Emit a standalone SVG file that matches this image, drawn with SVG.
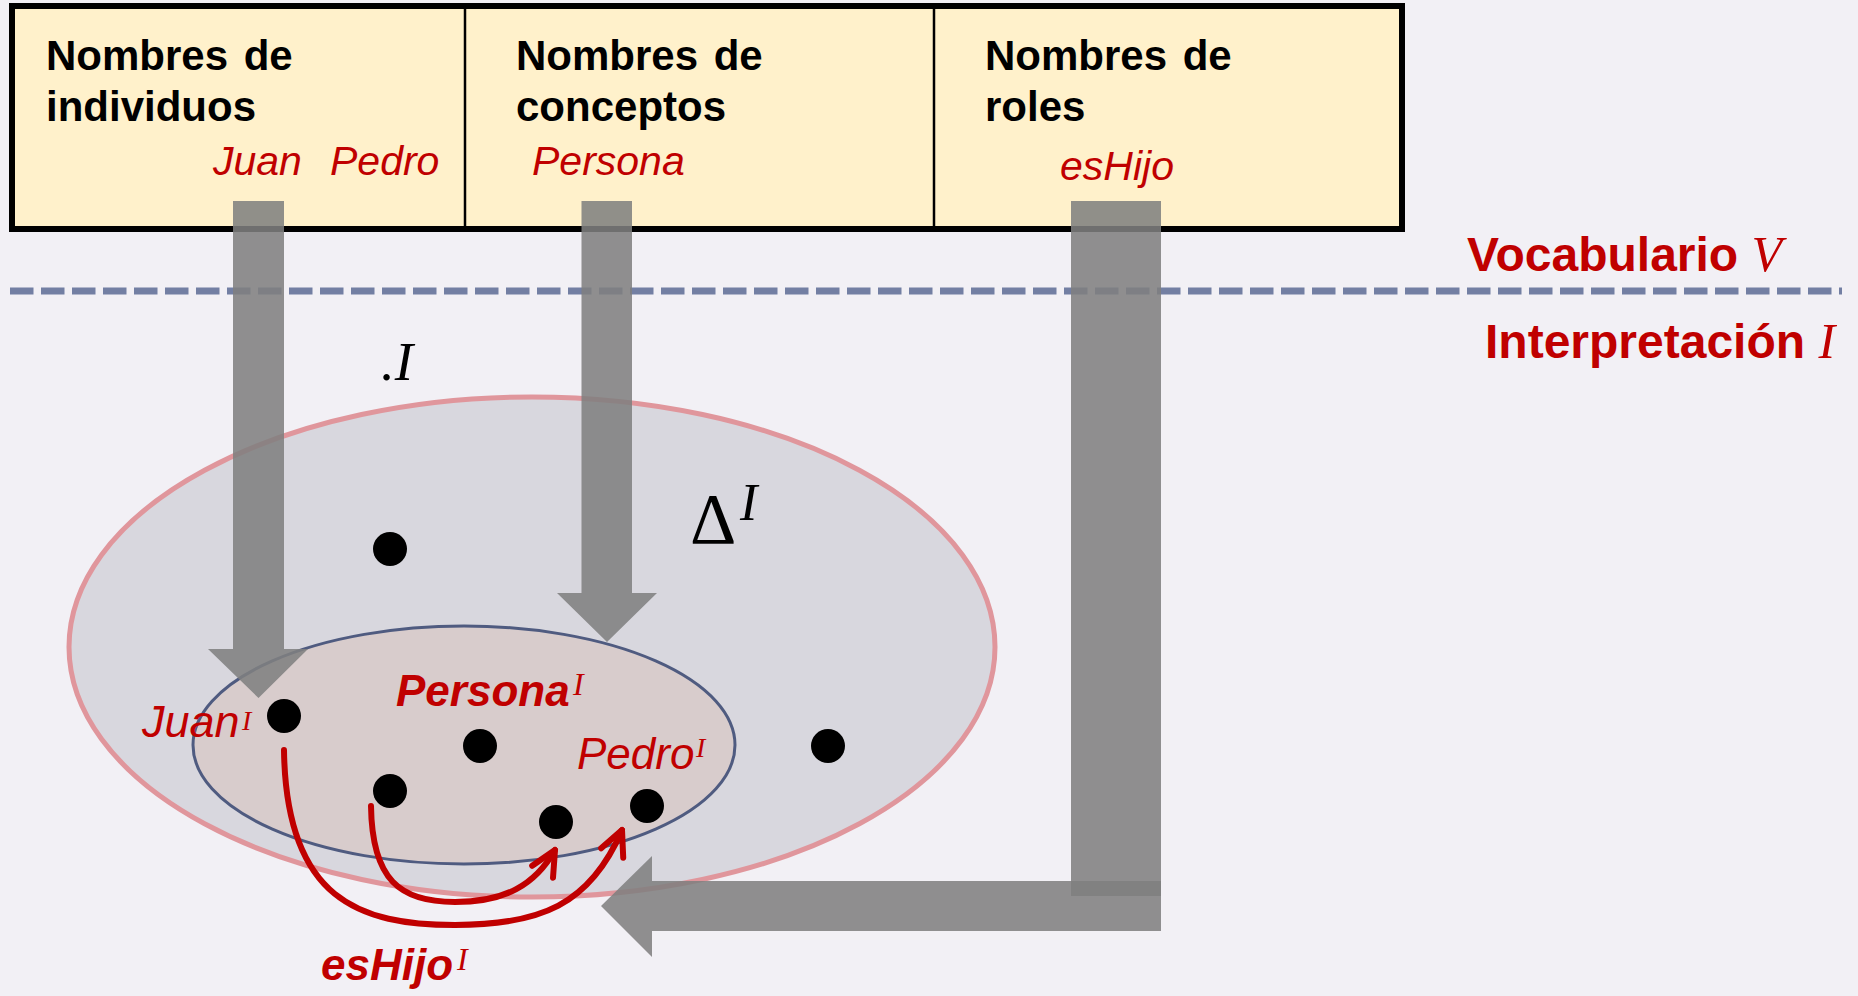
<svg xmlns="http://www.w3.org/2000/svg" width="1858" height="996" viewBox="0 0 1858 996">
<defs>
<style>
.hdr{font-family:"Liberation Sans",Arial,sans-serif;font-weight:bold;font-size:42px;fill:#000;word-spacing:4px}
.red{font-family:"Liberation Sans",Arial,sans-serif;font-style:italic;fill:#C00000}
.redb{font-family:"Liberation Sans",Arial,sans-serif;font-style:italic;font-weight:bold;fill:#C00000}
.lbl{font-family:"Liberation Sans",Arial,sans-serif;font-weight:bold;font-size:48px;fill:#C00000}
.math{font-family:"Liberation Serif","Times New Roman",serif;font-style:italic}
.up{font-family:"Liberation Serif","Times New Roman",serif;font-style:normal}
.garrow{fill:#808080;fill-opacity:0.87}
.dot{fill:#000}
.rel{fill:none;stroke:#C00000;stroke-width:6;stroke-linecap:round}
</style>
<marker id="open" markerUnits="userSpaceOnUse" markerWidth="40" markerHeight="40" refX="0" refY="0" viewBox="-30 -20 40 40" orient="auto" overflow="visible">
<path d="M-25,-12 L0,0 L-25,12" fill="none" stroke="#C00000" stroke-width="6" stroke-linecap="round" stroke-linejoin="round"/>
</marker>
</defs>
<rect x="0" y="0" width="1858" height="996" fill="#F2F0F5"/>

<g id="vocab-box">
<rect x="12" y="6" width="1390" height="223" fill="#FFF1CB" stroke="#000" stroke-width="6"/>
<line x1="465" y1="6" x2="465" y2="229" stroke="#000" stroke-width="2.5"/>
<line x1="934" y1="6" x2="934" y2="229" stroke="#000" stroke-width="2.5"/>
</g>
<g id="col-individuos">
<text class="hdr" x="46" y="70">Nombres de</text>
<text class="hdr" x="46" y="121">individuos</text>
<text class="red" font-size="41" x="213" y="175">Juan</text>
<text class="red" font-size="41" x="330" y="175">Pedro</text>
</g>
<g id="col-conceptos">
<text class="hdr" x="516" y="70">Nombres de</text>
<text class="hdr" x="516" y="121">conceptos</text>
<text class="red" font-size="41" x="532" y="175">Persona</text>
</g>
<g id="col-roles">
<text class="hdr" x="985" y="70">Nombres de</text>
<text class="hdr" x="985" y="121">roles</text>
<text class="red" font-size="41" x="1060" y="180">esHijo</text>
</g>

<g id="separator">
<line x1="10" y1="291" x2="1842" y2="291" stroke="#737FA3" stroke-width="7" stroke-dasharray="23.5 7.5"/>
<text class="lbl" x="1467" y="271">Vocabulario <tspan class="math" font-weight="normal" font-size="50">V</tspan></text>
<text class="lbl" x="1485" y="358">Interpretación <tspan class="math" font-weight="normal" font-size="50">I</tspan></text>
</g>

<g id="domain">
<ellipse cx="532" cy="647" rx="463" ry="250" fill="#D8D7DE" stroke="#E0969C" stroke-width="5"/>
<text class="up" font-size="72" x="690" y="543">Δ</text>
<text class="math" font-size="52" x="740" y="520">I</text>
<circle class="dot" cx="390" cy="549" r="17"/>
<circle class="dot" cx="828" cy="746" r="17"/>
</g>

<g id="persona-set">
<ellipse cx="464" cy="745" rx="271" ry="119" fill="#D8CCCC" stroke="#4F5B80" stroke-width="3"/>
<text class="redb" font-size="44" x="396" y="706">Persona</text>
<text class="math" font-size="32" fill="#C00000" x="573" y="695">I</text>
<text class="red" font-size="45" x="142" y="737">Juan</text>
<text class="math" font-size="28" fill="#C00000" x="242" y="730">I</text>
<text class="red" font-size="44" x="577" y="769">Pedro</text>
<text class="math" font-size="28" fill="#C00000" x="696" y="757">I</text>
<circle class="dot" cx="284" cy="716" r="17"/>
<circle class="dot" cx="480" cy="746" r="17"/>
<circle class="dot" cx="390" cy="791" r="17"/>
<circle class="dot" cx="556" cy="822" r="17"/>
<circle class="dot" cx="647" cy="806" r="17"/>
</g>

<g id="connectors">
<path class="rel" d="M284,750 C286,900 360,925 455,925 C540,925 590,905 622,830" marker-end="url(#open)"/>
<path class="rel" d="M371,806 C372,880 400,902 455,902 C505,902 535,885 555,850" marker-end="url(#open)"/>
<polygon class="garrow" points="233,201 284,201 284,649 308,649 258.5,698 208,649 233,649"/>
<polygon class="garrow" points="581.5,201 632,201 632,593 657,593 607,642 557,593 581.5,593"/>
<rect class="garrow" x="1071" y="201" width="90" height="695"/>
<polygon class="garrow" points="1161,881 1161,931 652,931 652,957 601,906 652,856 652,881"/>
<text class="math" font-size="55" fill="#000" x="381" y="380">.I</text>
</g>

<g id="eshijo-label">
<text class="redb" font-size="44" x="321" y="980">esHijo</text>
<text class="math" font-size="32" fill="#C00000" x="457" y="970">I</text>
</g>
</svg>
